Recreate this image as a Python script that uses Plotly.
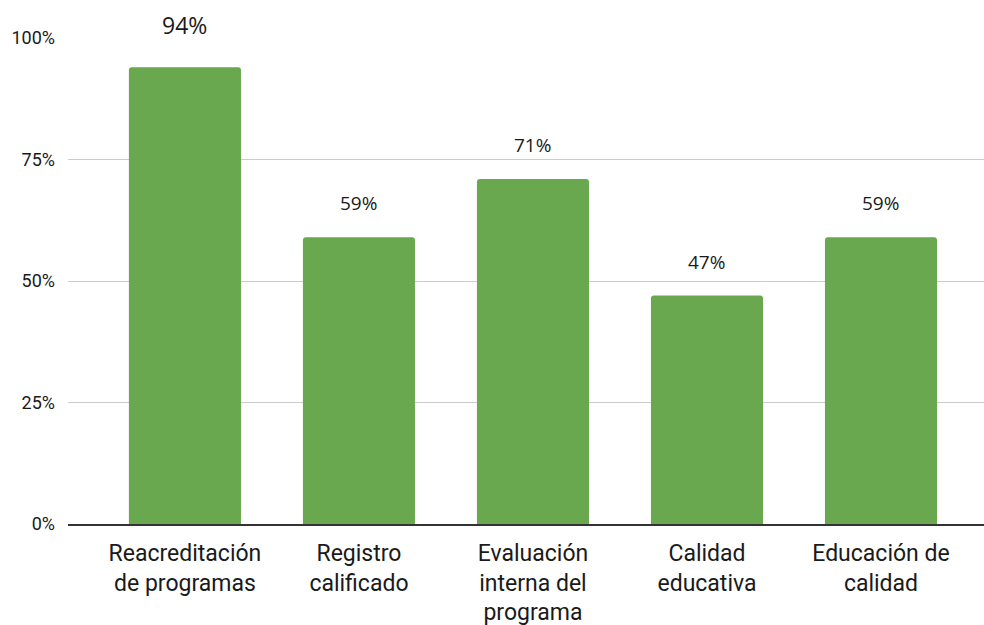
import plotly.graph_objects as go

categories = [
    "Reacreditación<br>de programas",
    "Registro<br>calificado",
    "Evaluación<br>interna del<br>programa",
    "Calidad<br>educativa",
    "Educación de<br>calidad",
]
values = [0.94, 0.59, 0.71, 0.47, 0.59]
tick_vals = [0, 0.25, 0.5, 0.75, 1.0]
tick_text = ["0%", "25%", "50%", "75%", "100%"]

# label styling: the first bar's label is drawn larger
label_sizes = [23, 19, 19, 19, 19]
label_shift = [42, 34, 34, 34, 34]

fig = go.Figure()
fig.add_trace(go.Bar(
    x=list(range(len(categories))),
    y=values,
    marker=dict(color="#6aa84f", cornerradius=3, line=dict(width=0)),
    width=0.644,
))

for i, v in enumerate(values):
    fig.add_annotation(
        x=i, y=v, text=f"{round(v * 100)}%",
        showarrow=False, yanchor="middle", yshift=label_shift[i],
        font=dict(family="Open Sans", size=label_sizes[i], color="#1a1a1a"),
    )

fig.update_layout(
    width=984, height=625,
    margin=dict(l=68, r=0, t=38, b=101),
    plot_bgcolor="white", paper_bgcolor="white",
    showlegend=False,
    font=dict(family="Roboto", color="#1a1a1a"),
    xaxis=dict(
        range=[-0.672, 4.592],
        tickmode="array",
        tickvals=list(range(len(categories))),
        ticktext=categories,
        tickfont=dict(family="Roboto", size=23, color="#1a1a1a"),
        showgrid=False, zeroline=False,
        showline=True, linecolor="#333333", linewidth=2,
        ticks="", ticklabelstandoff=7, automargin=False,
    ),
    yaxis=dict(
        range=[0, 1.0],
        tickmode="array", tickvals=tick_vals, ticktext=tick_text,
        tickfont=dict(family="Roboto", size=18, color="#1a1a1a"),
        showgrid=True, gridcolor="#cccccc", gridwidth=1,
        zeroline=False, showline=False,
        ticks="", ticklabelstandoff=12, automargin=False,
    ),
)

fig.write_html("out.html")
